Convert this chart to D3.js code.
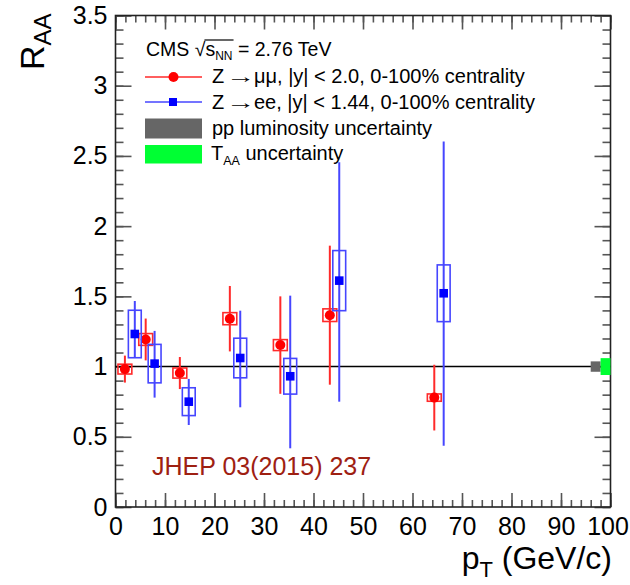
<!DOCTYPE html>
<html>
<head>
<meta charset="utf-8">
<script src="https://cdn.jsdelivr.net/npm/d3@7"></script>
<style>
  body { margin: 0; background: #fff; }
  text { font-family: "Liberation Sans", Arial, sans-serif; }
</style>
</head>
<body>
<svg id="chart" width="630" height="585"></svg>
<script>
// Z boson nuclear modification factor R_AA versus pT, PbPb at 2.76 TeV

// Z -> mu mu, |y| < 2.0
const muPt     = [1.9, 6.1, 13.0, 23.1, 33.3, 43.3, 64.4];
const muRaa    = [0.982, 1.193, 0.954, 1.341, 1.153, 1.366, 0.779];
const muStatUp = [0.096, 0.149, 0.114, 0.233, 0.347, 0.495, 0.234];
const muStatDn = [0.096, 0.149, 0.114, 0.233, 0.347, 0.495, 0.234];
const muSys    = [0.035, 0.042, 0.036, 0.043, 0.039, 0.045, 0.026];

// Z -> ee, |y| < 1.44
const elPt     = [3.9, 7.9, 14.8, 25.2, 35.3, 45.2, 66.3];
const elRaa    = [1.232, 1.021, 0.750, 1.061, 0.931, 1.612, 1.522];
const elStatUp = [0.235, 0.233, 0.162, 0.337, 0.574, 0.843, 1.080];
const elStatDn = [0.166, 0.242, 0.166, 0.351, 0.513, 0.862, 1.085];
const elSys    = [0.169, 0.137, 0.099, 0.141, 0.127, 0.214, 0.202];

// global uncertainties drawn at R_AA = 1
const lumiUnc = 0.037;
const taaUnc  = 0.060;

// axis ticks
const xMajor = d3.range(0, 101, 10);
const xMinor = d3.range(0, 101, 2);
const yMajor = [0, 0.5, 1, 1.5, 2, 2.5, 3, 3.5];
const yMinor = d3.range(0, 36).map(i => i / 10);
const yLabels = ["0", "0.5", "1", "1.5", "2", "2.5", "3", "3.5"];

const svg = d3.select("#chart");
const L = 115.5, R = 610.5, T = 15.5, B = 507;

const x = d3.scaleLinear().domain([0, 100]).range([L, R]);
const y = d3.scaleLinear().domain([0, 3.5]).range([B, T]);

svg.append("rect").attr("width", 630).attr("height", 585).attr("fill", "#fff");

// ---- axes (ticks point into the frame on all four sides)
const tickColor = "#555";
function styleAxis(g) {
  g.select(".domain").remove();
  g.selectAll(".tick line").attr("stroke", tickColor).attr("stroke-width", 1.6);
}
svg.append("g").attr("transform", `translate(0,${B})`)
  .call(d3.axisBottom(x).tickValues(xMinor).tickSize(-7).tickFormat(""))
  .call(styleAxis);
const xAxisG = svg.append("g").attr("transform", `translate(0,${B})`)
  .call(d3.axisBottom(x).tickValues(xMajor).tickSize(-14).tickPadding(10).tickFormat(d => d))
  .call(styleAxis);
svg.append("g").attr("transform", `translate(0,${T})`)
  .call(d3.axisTop(x).tickValues(xMinor).tickSize(-7).tickFormat(""))
  .call(styleAxis);
svg.append("g").attr("transform", `translate(0,${T})`)
  .call(d3.axisTop(x).tickValues(xMajor).tickSize(-14).tickFormat(""))
  .call(styleAxis);
svg.append("g").attr("transform", `translate(${L},0)`)
  .call(d3.axisLeft(y).tickValues(yMinor).tickSize(-8).tickFormat(""))
  .call(styleAxis);
svg.append("g").attr("transform", `translate(${L},0)`)
  .call(d3.axisLeft(y).tickValues(yMajor).tickSize(-16).tickPadding(8)
        .tickFormat((d, i) => yLabels[i]))
  .call(styleAxis);
svg.append("g").attr("transform", `translate(${R},0)`)
  .call(d3.axisRight(y).tickValues(yMinor).tickSize(-8).tickFormat(""))
  .call(styleAxis);
svg.append("g").attr("transform", `translate(${R},0)`)
  .call(d3.axisRight(y).tickValues(yMajor).tickSize(-16).tickFormat(""))
  .call(styleAxis);

svg.selectAll(".tick text")
  .attr("font-family", "Liberation Sans, Arial, sans-serif")
  .attr("font-size", 25).attr("fill", "#000");
// keep the last x label inside the canvas
xAxisG.selectAll(".tick text").filter(d => d === 100).attr("dx", -3);

// frame
svg.append("rect").attr("x", L).attr("y", T).attr("width", R - L).attr("height", B - T)
  .attr("fill", "none").attr("stroke", "#222").attr("stroke-width", 1.6);

// reference line at unity
svg.append("line").attr("x1", x(0)).attr("x2", x(100)).attr("y1", y(1)).attr("y2", y(1))
  .attr("stroke", "#000").attr("stroke-width", 1.6);

// ---- global uncertainty boxes
svg.append("rect").attr("x", x(96)).attr("width", x(98) - x(96))
  .attr("y", y(1 + lumiUnc)).attr("height", y(1 - lumiUnc) - y(1 + lumiUnc))
  .attr("fill", "#666");
svg.append("rect").attr("x", x(98)).attr("width", x(100) - x(98))
  .attr("y", y(1 + taaUnc)).attr("height", y(1 - taaUnc) - y(1 + taaUnc))
  .attr("fill", "#00ff33");

// ---- data series
function drawSeries(pt, raa, up, dn, sys, halfW, color, lineColor, marker) {
  const g = svg.append("g");
  const idx = d3.range(pt.length);
  // statistical error bars
  g.selectAll(".stat").data(idx).join("line")
    .attr("x1", i => x(pt[i])).attr("x2", i => x(pt[i]))
    .attr("y1", i => y(raa[i] + up[i])).attr("y2", i => y(raa[i] - dn[i]))
    .attr("stroke", lineColor).attr("stroke-width", 2);
  // systematic boxes
  g.selectAll(".sys").data(idx).join("rect")
    .attr("x", i => x(pt[i] - halfW)).attr("width", i => x(pt[i] + halfW) - x(pt[i] - halfW))
    .attr("y", i => y(raa[i] + sys[i])).attr("height", i => y(raa[i] - sys[i]) - y(raa[i] + sys[i]))
    .attr("fill", "none").attr("stroke", lineColor).attr("stroke-width", 1.6);
  // markers
  if (marker === "circle") {
    g.selectAll(".mk").data(idx).join("circle")
      .attr("cx", i => x(pt[i])).attr("cy", i => y(raa[i])).attr("r", 5)
      .attr("fill", color);
  } else {
    g.selectAll(".mk").data(idx).join("rect")
      .attr("x", i => x(pt[i]) - 4.3).attr("y", i => y(raa[i]) - 4.3)
      .attr("width", 8.6).attr("height", 8.6).attr("fill", color);
  }
}
drawSeries(muPt, muRaa, muStatUp, muStatDn, muSys, 1.4, "#ff0000", "#ff2a2a", "circle");
drawSeries(elPt, elRaa, elStatUp, elStatDn, elSys, 1.3, "#0000ff", "#4646ff", "square");

// ---- legend
const FS = 20;
const lg = svg.append("g").attr("font-size", FS).attr("fill", "#000");

// CMS sqrt(s_NN) = 2.76 TeV
const hdr = lg.append("text").attr("x", 146).attr("y", 56).attr("font-size", 19.5);
hdr.append("tspan").text("CMS ");
hdr.append("tspan").text("\u221A");
hdr.append("tspan").text("s");
hdr.append("tspan").attr("font-size", 12).attr("dy", 4).text("NN");
hdr.append("tspan").attr("dy", -4).text(" = 2.76 TeV");
{
  const t = hdr.node();
  const n0 = "CMS \u221A".length;
  const st = t.getStartPositionOfChar(n0).x;
  const en = t.getEndPositionOfChar(n0 + 2).x;
  lg.append("line").attr("x1", st - 1).attr("x2", en + 1).attr("y1", 40).attr("y2", 40)
    .attr("stroke", "#000").attr("stroke-width", 1.2);
}

// "Z -> ..." entries: Z, a long arrow, then the remainder
function decayLabel(baseline, rest) {
  lg.append("text").attr("x", 212).attr("y", baseline).text("Z");
  lg.append("text")
    .attr("transform", `translate(226,${baseline}) scale(1.55,1)`)
    .attr("font-family", "DejaVu Sans, sans-serif").attr("font-size", FS - 1)
    .text("\u2192");
  lg.append("text").attr("x", 254).attr("y", baseline).text(rest);
}

lg.append("line").attr("x1", 145).attr("x2", 202).attr("y1", 77).attr("y2", 77)
  .attr("stroke", "#ff2a2a").attr("stroke-width", 1.6);
lg.append("circle").attr("cx", 173.5).attr("cy", 77).attr("r", 5).attr("fill", "#ff0000");
decayLabel(83, "\u03BC\u03BC, |y| < 2.0, 0-100% centrality");

lg.append("line").attr("x1", 145).attr("x2", 202).attr("y1", 102).attr("y2", 102)
  .attr("stroke", "#4646ff").attr("stroke-width", 1.6);
lg.append("rect").attr("x", 169).attr("y", 98).attr("width", 8).attr("height", 8)
  .attr("fill", "#0000ff");
decayLabel(109, "ee, |y| < 1.44, 0-100% centrality");

lg.append("rect").attr("x", 145).attr("y", 118.5).attr("width", 57).attr("height", 20)
  .attr("fill", "#666");
lg.append("text").attr("x", 212).attr("y", 135).text("pp luminosity uncertainty");

lg.append("rect").attr("x", 145).attr("y", 145).attr("width", 57).attr("height", 18.5)
  .attr("fill", "#00ff33");
const taaT = lg.append("text").attr("x", 211).attr("y", 160);
taaT.append("tspan").text("T");
taaT.append("tspan").attr("font-size", 12.5).attr("dy", 5).text("AA");
taaT.append("tspan").attr("dy", -5).text(" uncertainty");

// ---- axis titles
const yt = svg.append("text")
  .attr("transform", "translate(44,70) rotate(-90)")
  .attr("font-size", 34).attr("fill", "#000");
yt.append("tspan").text("R");
yt.append("tspan").attr("font-size", 24).attr("dy", 7).text("AA");

const xt = svg.append("text").attr("x", 612).attr("y", 569)
  .attr("text-anchor", "end").attr("font-size", 32).attr("fill", "#000");
xt.append("tspan").text("p");
xt.append("tspan").attr("font-size", 22).attr("dy", 8).text("T");
xt.append("tspan").attr("dy", -8).text(" (GeV/c)");

// publication reference
svg.append("text").attr("x", 152).attr("y", 475)
  .attr("font-family", "Open Sans, Noto Sans, sans-serif")
  .attr("font-size", 25).attr("fill", "#9e2012")
  .text("JHEP 03(2015) 237");
</script>
</body>
</html>
